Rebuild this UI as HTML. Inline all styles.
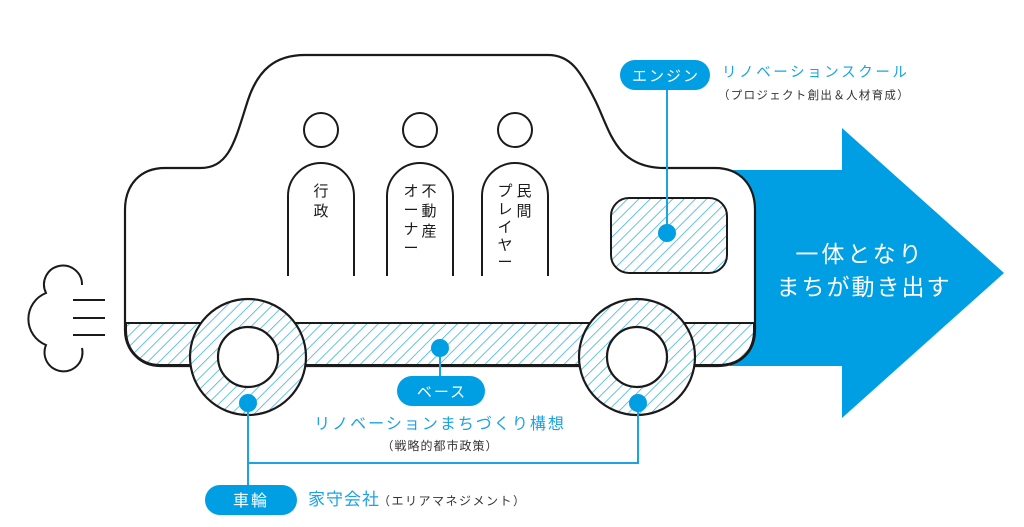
<!DOCTYPE html>
<html><head><meta charset="utf-8"><style>
html,body{margin:0;padding:0;background:#fff;}
svg{display:block;}
text{font-family:"Liberation Sans","Noto Sans CJK JP",sans-serif;}
</style></head><body>
<svg width="1024" height="527" viewBox="0 0 1024 527" xmlns="http://www.w3.org/2000/svg">
<defs>
<pattern id="h" patternUnits="userSpaceOnUse" width="8" height="8" patternTransform="rotate(45)">
<rect width="8" height="8" fill="#fff"/>
<line x1="0" y1="0" x2="0" y2="8" stroke="#3fb0e8" stroke-width="1.6"/>
</pattern>
</defs>
<!-- arrow -->
<polygon points="730,170 842,170 842,128 1004,273 842,418 842,366 730,366" fill="#009fe3"/>
<text x="860" y="262" font-size="23" fill="#fff" text-anchor="middle" letter-spacing="3">一体となり</text>
<text x="864" y="295" font-size="23" fill="#fff" text-anchor="middle" letter-spacing="2">まちが動き出す</text>
<!-- car body -->
<path d="M165,168 L200,168 C230,168 235,140 248,100 C258,70 275,55 305,55 L548,55 C570,55 580,70 595,100 C610,130 615,168 665,168 L715,168 C740,168 755,185 755,210 L755,330 C755,352 740,366 718,366 L160,366 C140,366 125,350 125,330 L125,210 C125,185 140,168 165,168 Z" fill="#fff" stroke="#1a1a1a" stroke-width="2.2"/>
<!-- band -->
<path d="M126,323 L754,323 L754,330 C754,352 740,365 718,365 L160,365 C140,365 126,350 126,330 Z" fill="url(#h)" stroke="#1a1a1a" stroke-width="2"/>
<!-- wheels -->
<circle cx="248" cy="357" r="58" fill="url(#h)" stroke="#1a1a1a" stroke-width="2.2"/>
<circle cx="248" cy="357" r="30" fill="#fff" stroke="#1a1a1a" stroke-width="2.2"/>
<circle cx="637" cy="357" r="58" fill="url(#h)" stroke="#1a1a1a" stroke-width="2.2"/>
<circle cx="637" cy="357" r="30" fill="#fff" stroke="#1a1a1a" stroke-width="2.2"/>
<!-- window -->
<rect x="611" y="198" width="116" height="75" rx="18" fill="url(#h)" stroke="#1a1a1a" stroke-width="2"/>
<!-- people -->
<g fill="none" stroke="#1a1a1a" stroke-width="2">
<circle cx="321" cy="130" r="17"/><circle cx="420" cy="130" r="17"/><circle cx="515" cy="130" r="17"/>
<path d="M288,276 L288,196 A33,33 0 0 1 354,196 L354,276"/>
<path d="M387,276 L387,196 A33,33 0 0 1 453,196 L453,276"/>
<path d="M482,276 L482,196 A33,33 0 0 1 548,196 L548,276"/>
</g>
<g font-size="15" fill="#1a1a1a" text-anchor="middle">
<text x="321" y="196">行</text><text x="321" y="216">政</text>
<text x="429" y="196">不</text><text x="429" y="216">動</text><text x="429" y="236">産</text>
<text x="411" y="196">オ</text><text x="411" y="215">ー</text><text x="411" y="234">ナ</text><text x="411" y="253">ー</text>
<text x="524" y="196">民</text><text x="524" y="216">間</text>
<text x="505" y="196">プ</text><text x="505" y="214">レ</text><text x="505" y="232">イ</text><text x="505" y="250">ヤ</text><text x="505" y="267">ー</text>
</g>
<!-- cloud -->
<g fill="none" stroke="#1a1a1a" stroke-width="2">
<path d="M82,285 A19,19 0 1 0 46,293 A28,28 0 0 0 46,345 A19,19 0 1 0 82,348"/>
<line x1="73" y1="300" x2="105" y2="300"/><line x1="73" y1="318" x2="105" y2="318"/><line x1="73" y1="335" x2="105" y2="335"/>
</g>
<!-- connectors -->
<g stroke="#1ba3e4" stroke-width="2" fill="none">
<line x1="667" y1="88" x2="667" y2="233"/>
<line x1="440" y1="348" x2="440" y2="378"/>
<polyline points="248,403 248,488"/>
<polyline points="248,463 638,463 638,403"/>
</g>
<g fill="#009fe3">
<circle cx="667" cy="233" r="9"/>
<circle cx="440" cy="348" r="9"/>
<circle cx="248" cy="403" r="9"/>
<circle cx="638" cy="403" r="9"/>
<rect x="620" y="60" width="90" height="30" rx="15"/>
<rect x="397" y="376" width="88" height="30" rx="15"/>
<rect x="205" y="485" width="92" height="30" rx="15"/>
</g>
<g fill="#fff" font-size="15" text-anchor="middle" letter-spacing="2">
<text x="666" y="81">エンジン</text>
<text x="442" y="397">ベース</text>
<text x="251" y="506" font-size="16">車輪</text>
</g>
<g fill="#1ba3e4">
<text x="722" y="77" font-size="14.5" letter-spacing="2.6">リノベーションスクール</text>
<text x="440" y="429" font-size="16" text-anchor="middle" letter-spacing="2">リノベーションまちづくり構想</text>
<text x="308" y="505" font-size="17" letter-spacing="1">家守会社</text>
</g>
<g fill="#333">
<text x="718" y="99" font-size="11.5" letter-spacing="1.3">（プロジェクト創出＆人材育成）</text>
<text x="440" y="450" font-size="12" text-anchor="middle" letter-spacing="1">（戦略的都市政策）</text>
<text x="378" y="505" font-size="12" letter-spacing="1.5">（エリアマネジメント）</text>
</g>
</svg>
</body></html>
